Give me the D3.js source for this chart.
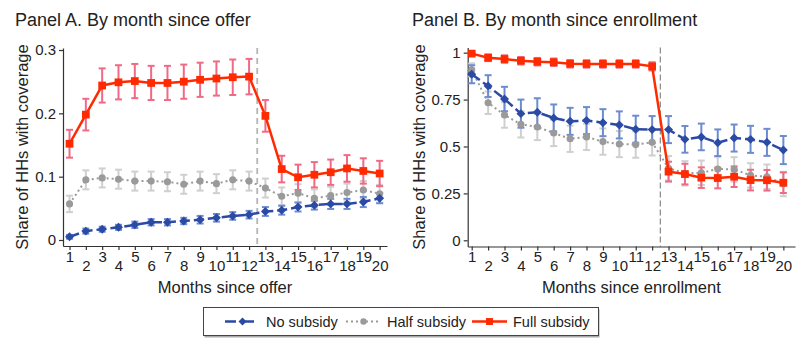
<!DOCTYPE html>
<html lang="en">
  <head>
    <meta charset="utf-8">
    <title>Share of HHs with coverage</title>
    <script src="https://cdnjs.cloudflare.com/ajax/libs/d3/7.8.5/d3.min.js"></script>
    <style>
      body { margin: 0; background: #fff; }
      svg text { font-family: "Liberation Sans", Arial, Helvetica, sans-serif; fill: #222; }
      .axis path, .axis line { stroke: #333; }
    </style>
  </head>
  <body>
    <script type="text/javascript">
      var months = d3.range(1, 21);

      // Panel A: by month since offer
      var aNone = [0.005, 0.014, 0.017, 0.020, 0.024, 0.028, 0.028, 0.030, 0.032, 0.035,
                   0.038, 0.040, 0.045, 0.047, 0.052, 0.055, 0.057, 0.057, 0.060, 0.066];
      var aNoneCI = [0.003, 0.004, 0.004, 0.004, 0.005, 0.005, 0.005, 0.005, 0.006, 0.006,
                     0.006, 0.006, 0.007, 0.007, 0.007, 0.007, 0.008, 0.008, 0.008, 0.008];
      var aHalf = [0.057, 0.095, 0.098, 0.096, 0.093, 0.093, 0.092, 0.088, 0.093, 0.089,
                   0.095, 0.093, 0.082, 0.069, 0.074, 0.066, 0.070, 0.075, 0.079, 0.073];
      var aHalfCI = [0.013, 0.015, 0.015, 0.015, 0.015, 0.015, 0.015, 0.015, 0.015, 0.015,
                     0.015, 0.015, 0.015, 0.014, 0.014, 0.014, 0.014, 0.014, 0.014, 0.014];
      var aFull = [0.152, 0.198, 0.244, 0.249, 0.251, 0.248, 0.248, 0.250, 0.253, 0.255,
                   0.257, 0.258, 0.196, 0.112, 0.099, 0.103, 0.107, 0.113, 0.109, 0.105];
      var aFullCI = [0.022, 0.025, 0.027, 0.027, 0.027, 0.027, 0.027, 0.027, 0.027, 0.027,
                     0.028, 0.028, 0.025, 0.021, 0.020, 0.020, 0.020, 0.021, 0.020, 0.020];

      // Panel B: by month since enrollment
      var bNone = [0.885, 0.822, 0.753, 0.675, 0.682, 0.652, 0.634, 0.638, 0.627, 0.615,
                   0.592, 0.590, 0.590, 0.538, 0.551, 0.520, 0.545, 0.538, 0.522, 0.481];
      var bNoneCI = [0.048, 0.058, 0.065, 0.075, 0.075, 0.072, 0.072, 0.072, 0.072, 0.072,
                     0.072, 0.072, 0.072, 0.071, 0.071, 0.071, 0.072, 0.072, 0.072, 0.075];
      var bHalf = [0.908, 0.733, 0.668, 0.618, 0.604, 0.572, 0.541, 0.551, 0.526, 0.513,
                   0.510, 0.522, 0.384, 0.357, 0.360, 0.380, 0.378, 0.346, 0.339, 0.300];
      var bHalfCI = [0.035, 0.060, 0.068, 0.070, 0.070, 0.070, 0.070, 0.070, 0.070, 0.070,
                     0.070, 0.070, 0.065, 0.065, 0.065, 0.065, 0.065, 0.065, 0.065, 0.065];
      var bFull = [0.995, 0.973, 0.966, 0.957, 0.952, 0.949, 0.941, 0.940, 0.940, 0.940,
                   0.940, 0.927, 0.366, 0.353, 0.334, 0.332, 0.339, 0.321, 0.320, 0.307];
      var bFullCI = [0.006, 0.018, 0.020, 0.020, 0.020, 0.020, 0.020, 0.020, 0.020, 0.020,
                     0.020, 0.022, 0.053, 0.055, 0.055, 0.055, 0.055, 0.055, 0.055, 0.055];

      var aTicks = [0, 0.1, 0.2, 0.3];
      var bTicks = [0, 0.25, 0.5, 0.75, 1];
      var legendLabels = ["No subsidy", "Half subsidy", "Full subsidy"];

      var w = 807;
      var h = 350;

      var svg = d3.select("body")
        .append("svg")
        .attr("width", w)
        .attr("height", h);

      // diamond = square turned 45deg
      var styles = {
        none: { line: "#2b4aa6", bar: "#6d8cd0", dash: "10,4", width: 2.5, shape: d3.symbolSquare, size: 40, rot: 45 },
        half: { line: "#9a9a9a", bar: "#cfcfcf", dash: "2,3", width: 2, shape: d3.symbolCircle, size: 40, rot: 0 },
        full: { line: "#ff2a00", bar: "#f06a85", dash: null, width: 2.5, shape: d3.symbolSquare, size: 60, rot: 0 }
      };

      function drawPanel(p) {
        var g = svg.append("g");

        var xScale = d3.scaleLinear().domain(p.xDomain).range(p.xRange);
        var yScale = d3.scaleLinear().domain(p.yDomain).range(p.yRange);

        g.append("text")
          .attr("x", p.titleX)
          .attr("y", 26)
          .style("font-size", "18px")
          .text(p.title);

        // dashed separator at 12.5
        g.append("line")
          .attr("x1", xScale(12.5)).attr("x2", xScale(12.5))
          .attr("y1", p.yRange[1]).attr("y2", p.yRange[0])
          .attr("stroke", p.sepColor)
          .attr("stroke-width", p.sepWidth)
          .attr("stroke-dasharray", p.sepDash);

        var xAxis = d3.axisBottom(xScale)
          .tickValues(months)
          .tickSize(4)
          .tickSizeOuter(0)
          .tickFormat(d3.format("d"));
        var gx = g.append("g")
          .attr("class", "axis")
          .attr("transform", "translate(0," + p.yRange[0] + ")")
          .call(xAxis);
        gx.selectAll("text")
          .style("font-size", "15px")
          .attr("y", function(d) { return d % 2 ? 5 : 14; });
        gx.selectAll("path, line").attr("stroke-width", 1.2);

        var yAxis = d3.axisLeft(yScale)
          .tickValues(p.ticks)
          .tickSize(4)
          .tickSizeOuter(0)
          .tickFormat(function(d) { return String(d); });
        var gy = g.append("g")
          .attr("class", "axis")
          .attr("transform", "translate(" + p.xRange[0] + ",0)")
          .call(yAxis);
        gy.selectAll("text").style("font-size", "15px");
        gy.selectAll("path, line").attr("stroke-width", 1.2);

        g.append("text")
          .attr("x", (p.xRange[0] + p.xRange[1]) / 2)
          .attr("y", 293)
          .attr("text-anchor", "middle")
          .style("font-size", "16.5px")
          .text(p.xTitle);

        g.append("text")
          .attr("transform", "translate(" + p.yTitleX + ",147) rotate(-90)")
          .attr("text-anchor", "middle")
          .style("font-size", "16.5px")
          .text("Share of HHs with coverage");

        var order = ["half", "none", "full"];

        // error bars
        order.forEach(function(k) {
          var s = styles[k];
          var vals = p.series[k][0], ci = p.series[k][1];
          var eb = g.append("g").attr("stroke", s.bar).attr("stroke-width", 2).attr("fill", "none");
          months.forEach(function(m, i) {
            var x = xScale(m);
            var y0 = yScale(vals[i] - ci[i]), y1 = yScale(vals[i] + ci[i]);
            eb.append("line").attr("x1", x).attr("x2", x).attr("y1", y0).attr("y2", y1);
            eb.append("line").attr("x1", x - 3.5).attr("x2", x + 3.5).attr("y1", y0).attr("y2", y0);
            eb.append("line").attr("x1", x - 3.5).attr("x2", x + 3.5).attr("y1", y1).attr("y2", y1);
          });
        });

        // lines and markers
        order.forEach(function(k) {
          var s = styles[k];
          var vals = p.series[k][0];
          var line = d3.line()
            .x(function(d, i) { return xScale(months[i]); })
            .y(function(d) { return yScale(d); });
          g.append("path")
            .datum(vals)
            .attr("d", line)
            .attr("fill", "none")
            .attr("stroke", s.line)
            .attr("stroke-width", s.width)
            .attr("stroke-dasharray", s.dash);
          g.selectAll(".pt-" + k)
            .data(vals)
            .enter()
            .append("path")
            .attr("d", d3.symbol().type(s.shape).size(s.size))
            .attr("transform", function(d, i) {
              return "translate(" + xScale(months[i]) + "," + yScale(d) + ") rotate(" + s.rot + ")";
            })
            .attr("fill", s.line);
        });
      }

      drawPanel({
        title: "Panel A. By month since offer",
        titleX: 15,
        xTitle: "Months since offer",
        xDomain: [0.6, 20.45], xRange: [63, 387],
        yDomain: [-0.0095, 0.3032], yRange: [246, 48],
        ticks: aTicks,
        yTitleX: 28,
        sepColor: "#b5b5b5", sepWidth: 1.8, sepDash: "6,4",
        series: { none: [aNone, aNoneCI], half: [aHalf, aHalfCI], full: [aFull, aFullCI] }
      });

      drawPanel({
        title: "Panel B. By month since enrollment",
        titleX: 412,
        xTitle: "Months since enrollment",
        xDomain: [0.756, 20.71], xRange: [467.7, 795],
        yDomain: [-0.033, 1.027], yRange: [246.5, 47.6],
        ticks: bTicks,
        yTitleX: 425,
        sepColor: "#888", sepWidth: 1.2, sepDash: "6,3",
        series: { none: [bNone, bNoneCI], half: [bHalf, bHalfCI], full: [bFull, bFullCI] }
      });

      // legend
      var leg = svg.append("g");
      leg.append("rect")
        .attr("x", 204.5).attr("y", 309.5)
        .attr("width", 395).attr("height", 28)
        .attr("fill", "#aaa");
      leg.append("rect")
        .attr("x", 203.5).attr("y", 307.5)
        .attr("width", 395).attr("height", 28)
        .attr("fill", "#fff")
        .attr("stroke", "#444")
        .attr("stroke-width", 1);

      var legX = [225, 346, 472];
      var keys = ["none", "half", "full"];
      keys.forEach(function(k, i) {
        var s = styles[k];
        leg.append("line")
          .attr("x1", legX[i]).attr("x2", legX[i] + 35)
          .attr("y1", 321.5).attr("y2", 321.5)
          .attr("stroke", s.line)
          .attr("stroke-width", s.width)
          .attr("stroke-dasharray", k === "none" ? "11,7" : s.dash);
        leg.append("path")
          .attr("d", d3.symbol().type(s.shape).size(s.size * 0.8))
          .attr("transform", "translate(" + (legX[i] + 17.5) + ",321.5) rotate(" + s.rot + ")")
          .attr("fill", s.line);
        leg.append("text")
          .attr("x", legX[i] + 41)
          .attr("y", 326.5)
          .style("font-size", "14.5px")
          .text(legendLabels[i]);
      });
    </script>
  </body>
</html>
